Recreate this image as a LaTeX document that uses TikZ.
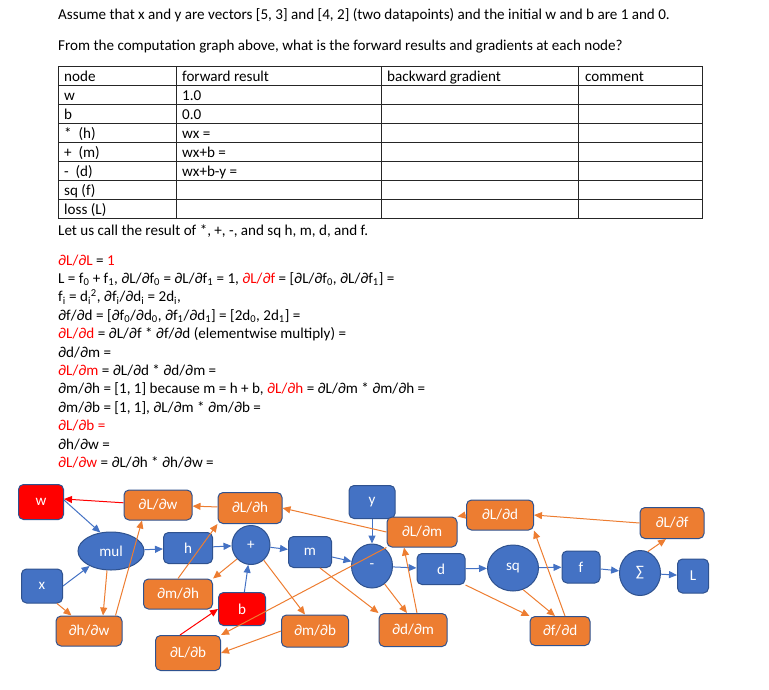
\documentclass[tikz,border=0pt]{standalone}
\usepackage{fontspec}
\setmainfont{Carlito}
\usetikzlibrary{shapes.geometric,arrows.meta,positioning,calc}
\definecolor{cgblue}{HTML}{4472C4}
\definecolor{cgline}{HTML}{2F528F}
\definecolor{cgorange}{HTML}{ED7D31}
\definecolor{cgred}{HTML}{FF0000}
\newcommand{\cgfont}{\fontsize{15.1}{18}\selectfont}
\newcommand{\redtxt}[1]{\textcolor{cgred}{#1}}
\tikzset{
  cgvar/.style={
    rectangle, rounded corners=5pt, draw=cgline, fill=cgblue, text=white,
    line width=1pt, minimum width=46pt, minimum height=32pt,
    inner sep=1pt, font=\cgfont
  },
  cgparam/.style={cgvar, fill=cgred},
  cggrad/.style={cgvar, fill=cgorange, minimum width=66pt, minimum height=31pt},
  cgop/.style={
    ellipse, draw=cgline, fill=cgblue, text=white,
    line width=1pt, inner sep=0pt, font=\cgfont
  },
  cgfwd/.style={-{Triangle[length=8pt,width=7pt]}, line width=1pt, draw=cgblue},
  cgbwd/.style={cgfwd, draw=cgorange},
  cgupd/.style={cgfwd, draw=cgred},
  cgrule/.style={line width=0.9pt, draw=black!85},
  txtline/.style={anchor=base west, inner sep=0pt, font=\cgfont},
}

\begin{document}
\begin{tikzpicture}[x=1pt, y=-1pt]
  \useasboundingbox (0,0) rectangle (769,689);

  % question text
  \node[txtline] (q1) at (58,19.5) {Assume that x and y are vectors [5, 3] and [4, 2] (two datapoints) and the initial w and b are 1 and 0.};
  \node[txtline] (q2) at (58,50.5) {From the computation graph above, what is the forward results and gradients at each node?};

  % table
  \foreach \r in {0,...,8}
    \draw[cgrule] (58,{66+19.1*\r}) -- (702.5,{66+19.1*\r});
  \foreach \c in {58,176,381,578.5,702.5}
    \draw[cgrule] (\c,66) -- (\c,218.8);
  \node[txtline] (hd1) at (64,81) {node};
  \node[txtline] (hd2) at (182,81) {forward result};
  \node[txtline] (hd3) at (387,81) {backward gradient};
  \node[txtline] (hd4) at (585,81) {comment};
  \foreach \nm/\fw [count=\i] in {w/1.0, b/0.0, *\ \ (h)/wx =, +\ \ (m)/wx+b =,
      -\ \ (d)/wx+b-y =, sq (f)/{}, loss (L)/{}} {
    \node[txtline] at (64,{81+19.1*\i}) {\nm};
    \node[txtline] at (182,{81+19.1*\i}) {\fw};
  }

  % derivation
  \node[txtline] (q3) at (58,235.5) {Let us call the result of *, +, -, and sq h, m, d, and f.};
  \node[txtline] (g1) at (58,265) {\redtxt{∂L/∂L} = \redtxt{1}};
  \node[txtline] (g2) at (58,283.4) {L = f\textsubscript{0} + f\textsubscript{1}, ∂L/∂f\textsubscript{0} = ∂L/∂f\textsubscript{1} = 1, \redtxt{∂L/∂f} = [∂L/∂f\textsubscript{0}, ∂L/∂f\textsubscript{1}] =};
  \node[txtline] (g3) at (58,301.8) {f\textsubscript{i} = d\textsubscript{i}\textsuperscript{2}, ∂f\textsubscript{i}/∂d\textsubscript{i} = 2d\textsubscript{i},};
  \node[txtline] (g4) at (58,320.2) {∂f/∂d = [∂f\textsubscript{0}/∂d\textsubscript{0}, ∂f\textsubscript{1}/∂d\textsubscript{1}] = [2d\textsubscript{0}, 2d\textsubscript{1}] =};
  \node[txtline] (g5) at (58,338.6) {\redtxt{∂L/∂d} = ∂L/∂f * ∂f/∂d (elementwise multiply) =};
  \node[txtline] (g6) at (58,357) {∂d/∂m =};
  \node[txtline] (g7) at (58,375.4) {\redtxt{∂L/∂m} = ∂L/∂d * ∂d/∂m =};
  \node[txtline] (g8) at (58,393.8) {∂m/∂h = [1, 1] because m = h + b, \redtxt{∂L/∂h} = ∂L/∂m * ∂m/∂h =};
  \node[txtline] (g9) at (58,412.2) {∂m/∂b = [1, 1], ∂L/∂m * ∂m/∂b =};
  \node[txtline] (g10) at (58,430.6) {\redtxt{∂L/∂b =}};
  \node[txtline] (g11) at (58,449) {∂h/∂w =};
  \node[txtline] (g12) at (58,467.4) {\redtxt{∂L/∂w} = ∂L/∂h * ∂h/∂w =};

  % computation graph: forward nodes
  \node[cgparam, minimum width=45pt, minimum height=35pt] (w) at (41,502) {w};
  \node[cgvar, minimum width=41pt, minimum height=34pt] (x) at (42,586) {x};
  \node[cgop, minimum width=66pt, minimum height=38pt] (mul) at (111,551) {mul};
  \node[cgvar, minimum width=49pt, minimum height=31pt] (h) at (188,548) {h};
  \node[cgop, minimum width=38pt, minimum height=39pt] (plus) at (251,545) {+};
  \node[cgparam, minimum width=47pt, minimum height=33pt] (b) at (242,609) {b};
  \node[cgvar, minimum width=43pt, minimum height=31pt] (m) at (310,552) {m};
  \node[cgvar, minimum width=46pt, minimum height=33pt] (y) at (372,502) {y};
  \node[cgop, minimum width=41pt, minimum height=44pt] (minus) at (372,566) {-};
  \node[cgvar, minimum width=48pt, minimum height=31pt] (d) at (441,569) {d};
  \node[cgop, minimum width=51pt, minimum height=46pt] (sq) at (513,568) {sq};
  \node[cgvar, minimum width=38pt, minimum height=32pt] (f) at (581,567) {f};
  \node[cgop, minimum width=41pt, minimum height=45pt] (sum) at (640,573) {∑};
  \node[cgvar, minimum width=31pt, minimum height=34pt] (L) at (693,576) {L};

  % gradient nodes
  \node[cggrad, minimum width=68pt, minimum height=30pt] (dLw) at (158,505) {∂L/∂w};
  \node[cggrad, minimum width=64pt] (dLh) at (250,508) {∂L/∂h};
  \node[cggrad, minimum width=69pt, minimum height=30pt] (dmh) at (178,594) {∂m/∂h};
  \node[cggrad, minimum height=30pt] (dhw) at (89,631) {∂h/∂w};
  \node[cggrad, minimum width=65pt, minimum height=35pt] (dLb) at (188,653) {∂L/∂b};
  \node[cggrad, minimum width=67pt, minimum height=32pt] (dmb) at (315,631) {∂m/∂b};
  \node[cggrad, minimum width=70pt, minimum height=30pt] (dLm) at (422,532) {∂L/∂m};
  \node[cggrad, minimum width=68pt, minimum height=33pt] (ddm) at (413,630) {∂d/∂m};
  \node[cggrad, minimum width=67pt, minimum height=30pt] (dLd) at (500,515) {∂L/∂d};
  \node[cggrad, minimum width=64pt] (dLf) at (672,523) {∂L/∂f};
  \node[cggrad, minimum width=60pt, minimum height=29pt] (dfd) at (560,631) {∂f/∂d};

  % forward pass
  \draw[cgfwd] ([yshift=2pt]w.east) -- (mul.120);
  \draw[cgfwd] (x.east) -- (mul.215);
  \draw[cgfwd] (mul) -- (h);
  \draw[cgfwd] (h) -- (plus);
  \draw[cgfwd] (b) -- (plus);
  \draw[cgfwd] (plus) -- (m);
  \draw[cgfwd] (m) -- (minus);
  \draw[cgfwd] (y) -- (minus);
  \draw[cgfwd] (minus) -- (d);
  \draw[cgfwd] (d) -- (sq);
  \draw[cgfwd] (sq) -- (f);
  \draw[cgfwd] (f) -- (sum);
  \draw[cgfwd] (sum) -- (L);

  % backward pass
  \draw[cgbwd] ([xshift=-6pt]x.south east) -- ([xshift=16pt]dhw.north west);
  \draw[cgbwd] ([xshift=-4pt]mul.south) -- ([xshift=14pt]dhw.north);
  \draw[cgbwd] ([xshift=-7pt]dhw.north east) -- ([xshift=-16pt]dLw.south);
  \draw[cgbwd] (dLh) -- (dLw);
  \draw[cgbwd] (dmh.north) -- (dLh.south west);
  \draw[cgbwd] (plus.225) -- (dmh.north east);
  \draw[cgbwd] (plus.-50) -- ([xshift=-10pt]dmb.north);
  \draw[cgbwd] (dmb.west) -- (dLb.east);
  \draw[cgbwd] (dLm.south west) -- (dLb.north east);
  \draw[cgbwd] (dLm.west) -- (dLh.east);
  \draw[cgbwd] ([xshift=10pt]m.south) -- (ddm.north west);
  \draw[cgbwd] (minus.-55) -- ([xshift=-6pt]ddm.north);
  \draw[cgbwd] ([xshift=4pt]ddm.north) -- ([xshift=-18pt]dLm.south);
  \draw[cgbwd] (dLd.west) -- (dLm.north east);
  \draw[cgbwd] (d.south east) -- (dfd.north west);
  \draw[cgbwd] (sq.-65) -- ([xshift=-5pt]dfd.north);
  \draw[cgbwd] ([xshift=5pt]dfd.north) -- (dLd.south east);
  \draw[cgbwd] (dLf.west) -- (dLd.east);
  \draw[cgbwd] (sum.70) -- ([xshift=-6pt]dLf.south);

  % parameter updates
  \draw[cgupd] (dLw) -- ([yshift=3pt]w.east);
  \draw[cgupd] ([xshift=-8pt]dLb.north) -- (b.west);
\end{tikzpicture}
\end{document}
